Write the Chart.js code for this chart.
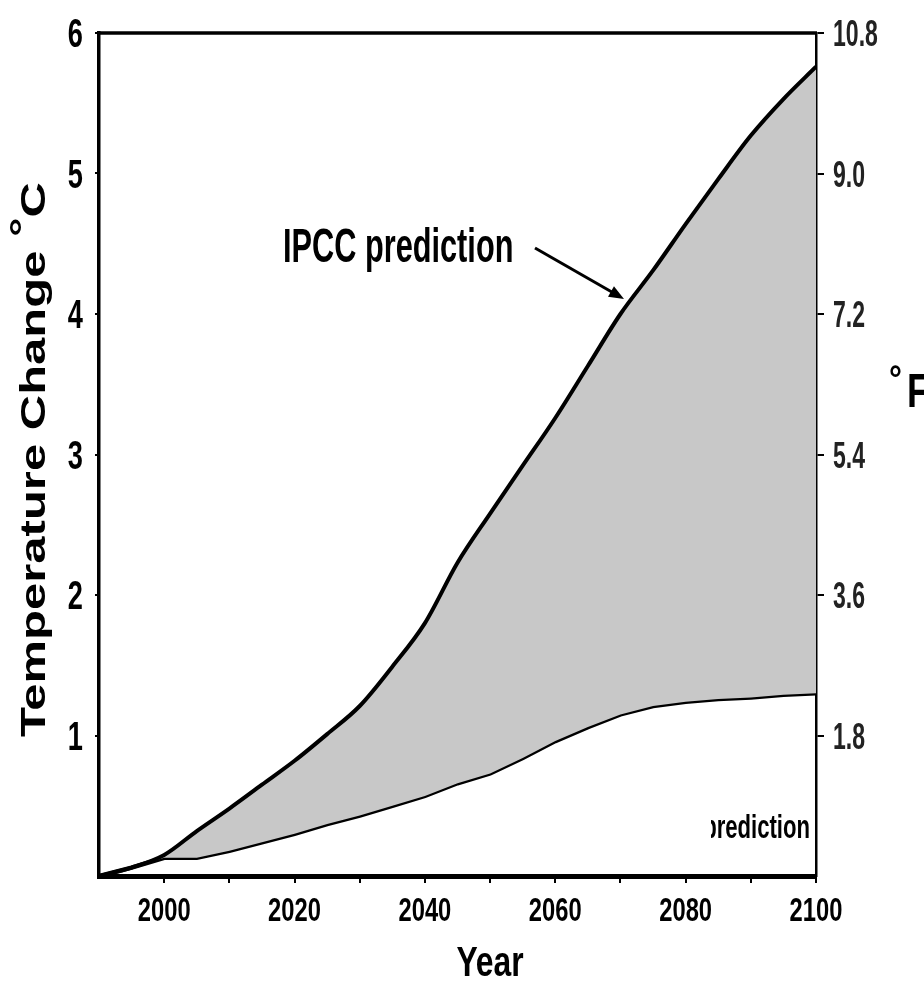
<!DOCTYPE html>
<html>
<head>
<meta charset="utf-8">
<script src="https://cdn.jsdelivr.net/npm/chart.js@4.4.1/dist/chart.umd.min.js"></script>
<style>
  html, body { margin: 0; padding: 0; background: #fff; }
  #wrap { width: 924px; height: 986px; }
</style>
</head>
<body>
<div id="wrap"><canvas id="tempChart"></canvas></div>
<script>
// Values (temperature change in °C)
const years  = [1990, 1995, 2000, 2005, 2010, 2015, 2020, 2025, 2030, 2035, 2040, 2045,
                2050, 2055, 2060, 2065, 2070, 2075, 2080, 2085, 2090, 2095, 2100];
const upperC = [0, 0.06, 0.15, 0.32, 0.48, 0.65, 0.82, 1.01, 1.21, 1.49, 1.80, 2.23,
                2.58, 2.92, 3.26, 3.63, 4.00, 4.31, 4.64, 4.96, 5.27, 5.53, 5.76];
const lowerC = [0, 0.06, 0.13, 0.13, 0.18, 0.24, 0.30, 0.37, 0.43, 0.50, 0.57, 0.66,
                0.73, 0.84, 0.96, 1.06, 1.15, 1.21, 1.24, 1.26, 1.27, 1.29, 1.30];

// Tick values / labels
const celsiusTicks    = [1, 2, 3, 4, 5, 6];
const fahrenheitTicks = [1.8, 3.6, 5.4, 7.2, 9.0, 10.8];
const yearTickMarks   = [2000, 2010, 2020, 2030, 2040, 2050, 2060, 2070, 2080, 2090, 2100];
const yearLabels      = [2000, 2020, 2040, 2060, 2080, 2100];

const FONT = '"Liberation Sans", Arial, sans-serif';

// draws text squeezed horizontally (the picture is stretched tall)
function squeezeText(ctx, s, x, y, font, sx, align, color) {
  ctx.save();
  ctx.font = font;
  ctx.fillStyle = color || '#000';
  ctx.textBaseline = 'alphabetic';
  ctx.textAlign = 'left';
  const w = ctx.measureText(s).width * sx;
  const x0 = align === 'right' ? x - w : (align === 'center' ? x - w / 2 : x);
  ctx.translate(x0, y);
  ctx.scale(sx, 1);
  ctx.fillText(s, 0, 0);
  ctx.restore();
}

const textLayer = {
  id: 'textLayer',
  afterDraw(chart) {
    const ctx = chart.ctx;
    const sx = chart.scales.x, sy = chart.scales.y, sf = chart.scales.y2;
    const area = chart.chartArea;

    // top frame line
    ctx.save();
    ctx.strokeStyle = '#000';
    ctx.lineWidth = 3.5;
    ctx.beginPath();
    ctx.moveTo(area.left - 1.5, area.top);
    ctx.lineTo(area.right + 1, area.top);
    ctx.stroke();
    ctx.restore();

    // tick labels
    celsiusTicks.forEach(v => {
      squeezeText(ctx, String(v), 83, sy.getPixelForValue(v) + 14, 'bold 40px ' + FONT, 0.68, 'right');
    });
    fahrenheitTicks.forEach(v => {
      squeezeText(ctx, v.toFixed(1), 833, sf.getPixelForValue(v) + 13, 'bold 36px ' + FONT, 0.64, 'left', '#222');
    });
    yearLabels.forEach(v => {
      squeezeText(ctx, String(v), sx.getPixelForValue(v), 921, 'bold 33px ' + FONT, 0.72, 'center');
    });

    // axis titles
    squeezeText(ctx, 'Year', 490, 976, 'bold 43px ' + FONT, 0.74, 'center');

    ctx.save();
    ctx.translate(45, 737);
    ctx.rotate(-Math.PI / 2);
    ctx.font = 'bold 35px ' + FONT;
    ctx.fillStyle = '#000';
    const main = 'Temperature Change ';
    const wMain = ctx.measureText(main).width;
    const wDeg = ctx.measureText('°').width;
    const wC = ctx.measureText('C').width;
    ctx.scale(555 / (wMain + wDeg + wC), 1);
    ctx.fillText(main, 0, 0);
    ctx.fillText('°', wMain, -10);
    ctx.fillText('C', wMain + wDeg, 0);
    ctx.restore();

    squeezeText(ctx, '°', 889, 391, 'bold 36px ' + FONT, 0.9, 'left');
    squeezeText(ctx, 'F', 907, 407, 'bold 48px ' + FONT, 0.75, 'left');

    // annotation
    squeezeText(ctx, 'IPCC prediction', 283, 262, 'bold 48px ' + FONT, 0.64, 'left');
    const ax0 = 535, ay0 = 248, ax1 = 624, ay1 = 299;
    const ang = Math.atan2(ay1 - ay0, ax1 - ax0);
    ctx.save();
    ctx.strokeStyle = '#000';
    ctx.fillStyle = '#000';
    ctx.lineWidth = 3;
    ctx.beginPath();
    ctx.moveTo(ax0, ay0);
    ctx.lineTo(ax1 - 10 * Math.cos(ang), ay1 - 10 * Math.sin(ang));
    ctx.stroke();
    ctx.beginPath();
    ctx.moveTo(ax1, ay1);
    ctx.lineTo(ax1 - 15 * Math.cos(ang) + 6 * Math.sin(ang), ay1 - 15 * Math.sin(ang) - 6 * Math.cos(ang));
    ctx.lineTo(ax1 - 15 * Math.cos(ang) - 6 * Math.sin(ang), ay1 - 15 * Math.sin(ang) + 6 * Math.cos(ang));
    ctx.closePath();
    ctx.fill();
    ctx.restore();

    // half hidden label at lower right
    ctx.save();
    ctx.beginPath();
    ctx.rect(711, 780, 110, 80);
    ctx.clip();
    squeezeText(ctx, 'prediction', 810, 838, 'bold 34px ' + FONT, 0.65, 'right');
    ctx.restore();
  }
};

const ctx = document.getElementById('tempChart').getContext('2d');

new Chart(ctx, {
  type: 'line',
  data: {
    datasets: [
      {
        label: 'upper',
        data: years.map((yr, i) => ({ x: yr, y: upperC[i] })),
        borderColor: '#000',
        borderWidth: 4,
        backgroundColor: '#c8c8c8',
        fill: '+1',
        cubicInterpolationMode: 'monotone',
        pointRadius: 0
      },
      {
        label: 'lower',
        data: years.map((yr, i) => ({ x: yr, y: lowerC[i] })),
        borderColor: '#000',
        borderWidth: 4.5,
        fill: false,
        tension: 0,
        pointRadius: 0
      }
    ]
  },
  options: {
    responsive: true,
    maintainAspectRatio: false,
    animation: false,
    layout: { padding: { top: 33, left: 0, right: 0, bottom: 0 } },
    plugins: {
      legend: { display: false },
      tooltip: { enabled: false }
    },
    scales: {
      x: {
        type: 'linear',
        min: 1990,
        max: 2100,
        afterBuildTicks: s => { s.ticks = yearTickMarks.map(v => ({ value: v })); },
        afterFit: s => { s.height = 110; },
        ticks: { display: false },
        grid: { drawOnChartArea: false, color: '#000', lineWidth: 2, tickLength: 7 },
        border: { color: '#000', width: 5 }
      },
      y: {
        position: 'left',
        min: 0,
        max: 6,
        afterBuildTicks: s => { s.ticks = celsiusTicks.map(v => ({ value: v })); },
        afterFit: s => { s.width = 99; },
        ticks: { display: false },
        grid: { drawOnChartArea: false, color: '#000', lineWidth: 2, tickLength: 4 },
        border: { color: '#000', width: 3.5 }
      },
      y2: {
        display: true,
        position: 'right',
        min: 0,
        max: 10.8,
        afterBuildTicks: s => { s.ticks = fahrenheitTicks.map(v => ({ value: v })); },
        afterFit: s => { s.width = 108; },
        ticks: { display: false },
        grid: { drawOnChartArea: false, color: '#000', lineWidth: 2, tickLength: 8 },
        border: { color: '#000', width: 2.5 }
      }
    }
  },
  plugins: [textLayer]
});
</script>
</body>
</html>
